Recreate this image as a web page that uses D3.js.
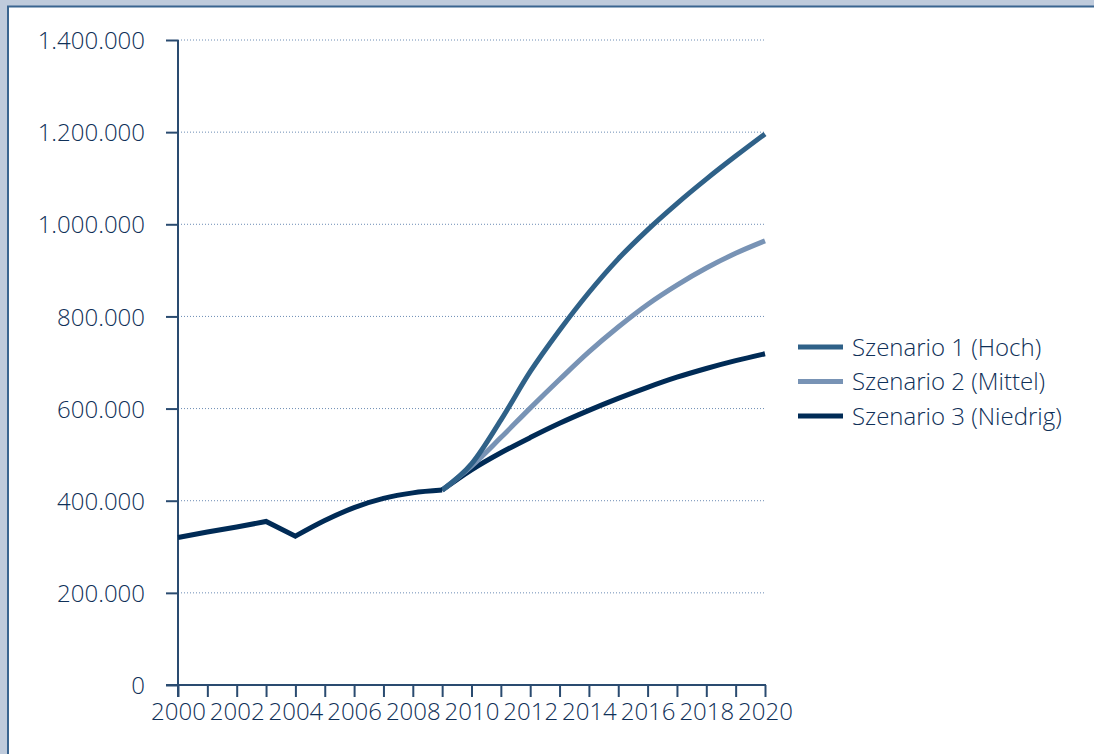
<!DOCTYPE html>
<html><head><meta charset="utf-8">
<script src="https://cdn.jsdelivr.net/npm/d3@7"></script>
<style>
html,body{margin:0;padding:0;background:#bfcbdc;overflow:hidden;}
svg{display:block;}
</style></head>
<body>
<svg id="chart" width="1094" height="754"></svg>
<script>
const historyYears = [2000,2001,2002,2003,2004,2005,2006,2007,2008,2009];
const historyValues = [320000,332000,343000,355000,323000,357000,385000,405000,417000,423000];
const scenarioYears = [2009,2010,2011,2012,2013,2014,2015,2016,2017,2018,2019,2020];
const scenario1 = [423000,480000,575000,680000,770000,852000,925000,988000,1045000,1098000,1148000,1196000];
const scenario2 = [423000,475000,537000,601000,663000,723000,777000,826000,868000,905000,937000,964000];
const scenario3 = [423000,467000,504000,537000,568000,596000,622000,646000,668000,687000,704000,719000];
const seriesNames = ["Szenario 1 (Hoch)","Szenario 2 (Mittel)","Szenario 3 (Niedrig)"];
const seriesColors = ["#2f6188","#7893b5","#002b56"];
const yTicks = [0,200000,400000,600000,800000,1000000,1200000,1400000];
const xTicks = [2000,2002,2004,2006,2008,2010,2012,2014,2016,2018,2020];

const svg = d3.select("#chart");
const font = "'Open Sans', 'Noto Sans', sans-serif";
const fontSize = "24px";
const fontWeight = 300;
const textColor = "#0f3058";
const axisColor = "#2a4b70";

// frame panel
svg.append("rect").attr("x",8).attr("y",6.5).attr("width",1200).attr("height",900)
  .attr("fill","#ffffff").attr("stroke","#3a6590").attr("stroke-width",2);

const x = d3.scaleLinear().domain([2000,2020]).range([178,765]);
const y = d3.scaleLinear().domain([0,1400000]).range([685,40]);

const fmt = v => d3.format(",")(v).replace(/,/g,".");

// gridlines
svg.append("g").selectAll("line").data(yTicks.filter(d=>d>0)).join("line")
  .attr("x1",x(2000)).attr("x2",x(2020))
  .attr("y1",d=>y(d)).attr("y2",d=>y(d))
  .attr("stroke","#6c8cb4").attr("stroke-width",1).attr("stroke-dasharray","1,2");

// y axis
const yAxis = d3.axisLeft(y).tickValues(yTicks).tickSize(12).tickPadding(21).tickFormat(fmt);
const gy = svg.append("g").attr("transform",`translate(${x(2000)},0)`).call(yAxis);
gy.select(".domain").remove();
gy.selectAll(".tick line").attr("stroke",axisColor).attr("stroke-width",2);
gy.selectAll("text").attr("fill",textColor).style("font-family",font).style("font-size",fontSize)
  .style("font-weight",fontWeight).attr("dy","0.36em");
svg.append("line").attr("x1",x(2000)).attr("x2",x(2000)).attr("y1",y(1400000)).attr("y2",697)
  .attr("stroke",axisColor).attr("stroke-width",2);

// x axis
const xAxis = d3.axisBottom(x).tickValues(d3.range(2000,2021)).tickSize(12).tickPadding(6)
  .tickFormat(d => xTicks.includes(d) ? d : "");
const gx = svg.append("g").attr("transform",`translate(0,${y(0)})`).call(xAxis);
gx.select(".domain").remove();
gx.selectAll(".tick line").attr("stroke",axisColor).attr("stroke-width",2);
gx.selectAll("text").attr("fill",textColor).style("font-family",font).style("font-size",fontSize)
  .style("font-weight",fontWeight);
svg.append("line").attr("x1",166).attr("x2",x(2020)+1).attr("y1",y(0)).attr("y2",y(0))
  .attr("stroke",axisColor).attr("stroke-width",2);

// lines
const lineLin = d3.line().x(d=>x(d[0])).y(d=>y(d[1])).curve(d3.curveLinear);
const lineSmooth = d3.line().x(d=>x(d[0])).y(d=>y(d[1])).curve(d3.curveMonotoneX);
const scen = [scenario1,scenario2,scenario3];
[2,1,0].forEach(i=>{
  svg.append("path").datum(scenarioYears.map((yr,j)=>[yr,scen[i][j]]))
    .attr("d",lineSmooth).attr("fill","none").attr("stroke",seriesColors[i])
    .attr("stroke-width",5).attr("stroke-linejoin","miter");
});
const hist = historyYears.map((yr,j)=>[yr,historyValues[j]]);
const histA = hist.filter(d=>d[0]<=2004);
const histB = hist.filter(d=>d[0]>=2004);
const histPath = lineLin(histA) + lineSmooth(histB).replace(/^M[^C]*?(?=C)/, m => "L" + m.slice(1));
svg.append("path").attr("d",histPath).attr("fill","none").attr("stroke",seriesColors[2])
  .attr("stroke-width",5).attr("stroke-linejoin","miter");

// legend
const lg = svg.append("g").attr("transform","translate(798,347)");
seriesNames.forEach((n,i)=>{
  const g = lg.append("g").attr("transform",`translate(0,${i*34.5})`);
  g.append("line").attr("x1",0).attr("x2",45).attr("y1",0).attr("y2",0)
    .attr("stroke",seriesColors[i]).attr("stroke-width",5);
  g.append("text").attr("x",54).attr("y",0).attr("dy","0.36em").text(n)
    .attr("fill",textColor).style("font-family",font).style("font-size",fontSize)
    .style("font-weight",fontWeight);
});
</script>
</body></html>
